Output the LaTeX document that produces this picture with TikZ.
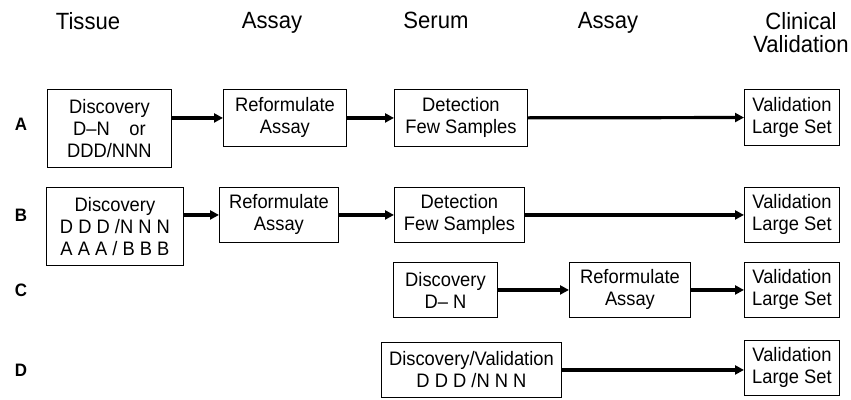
\documentclass[tikz,border=0pt]{standalone}
\usepackage{fontspec}
\setmainfont{Liberation Sans}[FakeStretch=0.94]
\usetikzlibrary{
		arrows.meta,
		positioning
	}
\tikzset{
		>={Triangle[length=9pt,width=9pt]}
	}
\tikzset{
		box/.style 2 args={draw,line width=.9pt,align=center,inner sep=0pt,anchor=north west,
			minimum width=#1pt,minimum height=#2pt,font=\fontsize{19.5}{22}\selectfont},
		head/.style={align=center,anchor=north,inner sep=0pt,font=\fontsize{23.5}{23}\selectfont},
		rowlabel/.style={font=\fontsize{18}{20}\selectfont\bfseries},
		flow/.style={->,line width=3.2pt}
	}

\begin{document}
\begin{tikzpicture}[x=1pt, y=-1pt] % one unit = one pixel of the sketch, y going down
		\useasboundingbox (0,0) rectangle (851,399);
		% column titles
		\node[head] (tissue) at (88,12) {Tissue};
		\node[head] (assayA) at (272,12) {Assay};
		\node[head] (serum) at (436,12) {Serum};
		\node[head] (assayB) at (608,12) {Assay};
		\node[head] (clinical) at (801,12) {Clinical\\Validation};
		% row letters
		\foreach \r/\y in {A/124,B/215,C/290,D/370}
		  \node[rowlabel] (lab\r) at (21,\y) {\r};
		% row A
		\node[box={124}{78}] (discA) at (47,89) {Discovery\\D--N\quad or\\DDD/NNN};
		\node[box={123}{57}] (refA) at (223,89) {Reformulate\\Assay};
		\node[box={133}{57}] (detA) at (394,89) {Detection\\Few Samples};
		\node[box={95}{56}] (valA) at (744,89) {Validation\\Large Set};
		\draw[flow] (refA.west -| discA.east) -- (refA.west);
		\draw[flow] (refA) -- (detA);
		\draw[flow] (detA) -- (valA);
		% row B
		\node[box={137}{78}] (discB) at (46,187) {Discovery\\D D D /N N N\\A A A / B B B};
		\node[box={119}{55}] (refB) at (219,187) {Reformulate\\Assay};
		\node[box={130}{55}] (detB) at (394,187) {Detection\\Few Samples};
		\node[box={95}{55}] (valB) at (744,187) {Validation\\Large Set};
		\draw[flow] (refB.west -| discB.east) -- (refB.west);
		\draw[flow] (refB) -- (detB);
		\draw[flow] (detB) -- (valB);
		% row C
		\node[box={104}{55}] (discC) at (393,262) {Discovery\\D-- N};
		\node[box={121}{55}] (refC) at (569,262) {Reformulate\\Assay};
		\node[box={95}{55}] (valC) at (744,262) {Validation\\Large Set};
		\draw[flow] (discC) -- (refC);
		\draw[flow] (refC) -- (valC);
		% row D
		\node[box={180}{55}] (discD) at (381,342) {Discovery/Validation\\D D D /N N N};
		\node[box={95}{55}] (valD) at (744,340) {Validation\\Large Set};
		\draw[flow] (discD.east) -- (discD.east -| valD.west);
\end{tikzpicture}
\end{document}
